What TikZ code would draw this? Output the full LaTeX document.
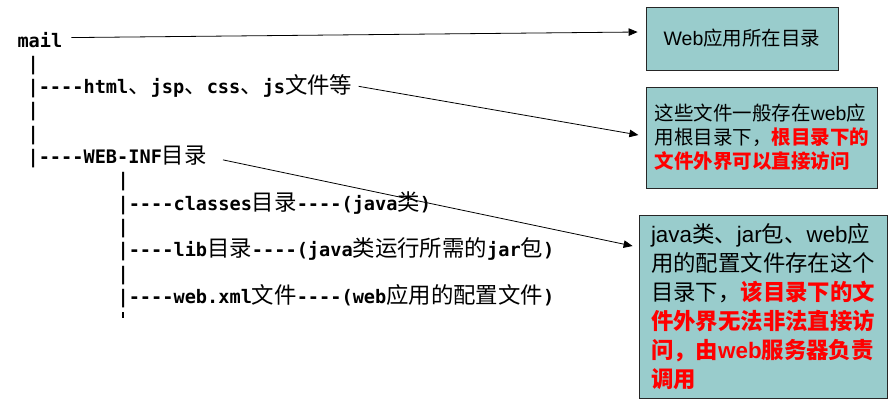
\documentclass[tikz,border=0pt]{standalone}
\usepackage{fontspec}
\setmainfont{Noto Sans CJK SC}
\newfontfamily\lat{Liberation Sans}
\newfontfamily\mono{DejaVu Sans Mono}[Ligatures=TeXOff]
\newfontfamily\cjk{Noto Sans CJK SC}
\usetikzlibrary{arrows.meta}
\definecolor{boxfill}{RGB}{153,204,204}
\definecolor{hot}{RGB}{255,0,0}
\newcommand{\zh}[1]{{\cjk\mdseries\fontsize{22.4}{24}\selectfont #1}}
\newcommand{\hl}[1]{{\color{hot}\bfseries #1}}
\tikzset{tree/.style={anchor=base west, inner sep=0pt, font=\mono\bfseries\fontsize{18.6}{22}\selectfont}}
\tikzset{note/.style={draw=black!85, fill=boxfill, line width=0.8pt, inner sep=0pt, align=left}}
\tikzset{link/.style={-{Triangle[length=9pt,width=7.5pt]}, line width=0.8pt}}

\begin{document}
\begin{tikzpicture}[x=1pt,y=-1pt]
        \useasboundingbox (0,0) rectangle (895,405);

        % directory tree
        \node[tree](mail)at(17.3,47){mail};
        \foreach \n/\x/\y in {b1/27.4/70.3, b2/27.4/116.9, b3/27.4/140.2, b4/117.4/186.8, b5/117.4/233.4, b6/117.4/280}
            \node[tree](\n)at(\x,\y){|};
        \node[tree](html)at(27.4,93.6){|----html\zh{、}jsp\zh{、}css\zh{、}js\zh{文件等}};
        \node[tree](webinf)at(27.4,163.5){|----WEB-INF\zh{目录}};
        \node[tree](classes)at(117.4,210.1){|----classes\zh{目录}----(java\zh{类})};
        \node[tree](lib)at(117.4,256.7){|----lib\zh{目录}----(java\zh{类运行所需的}jar\zh{包})};
        \node[tree](webxml)at(117.4,303.3){|----web.xml\zh{文件}----(web\zh{应用的配置文件})};
        \draw[line width=2.4pt](123,312)--(123,318);

        % notes
        \node[note, minimum width=192pt, minimum height=63pt, font=\fontsize{19.5}{24}\selectfont](home)at(742,38.5){{\lat Web}应用所在目录};
        \node[note, minimum width=231pt, minimum height=101pt, font=\fontsize{19.5}{24}\selectfont](root)at(762,137.5){这些文件一般存在{\lat web}应\\用根目录下，\hl{根目录下的}\\\hl{文件外界可以直接访问}};
        \node[note, minimum width=248pt, minimum height=183pt, font=\fontsize{22.4}{29}\selectfont](inf)at(763,306.5){{\lat java}类、{\lat jar}包、{\lat web}应\\用的配置文件存在这个\\目录下，\hl{该目录下的文}\\\hl{件外界无法非法直接访}\\\hl{问，由{\lat web}服务器负责}\\\hl{调用}};

        \draw[link]([xshift=9pt,yshift=2pt]mail.east)--([xshift=-8pt,yshift=6.5pt]home.west);
        \draw[link]([xshift=6pt]html.east)--([xshift=-7.7pt,yshift=2.5pt]root.west);
        \draw[link]([xshift=16pt,yshift=-3pt]webinf.east)--([xshift=-6pt,yshift=60.5pt]inf.west);
\end{tikzpicture}
\end{document}
